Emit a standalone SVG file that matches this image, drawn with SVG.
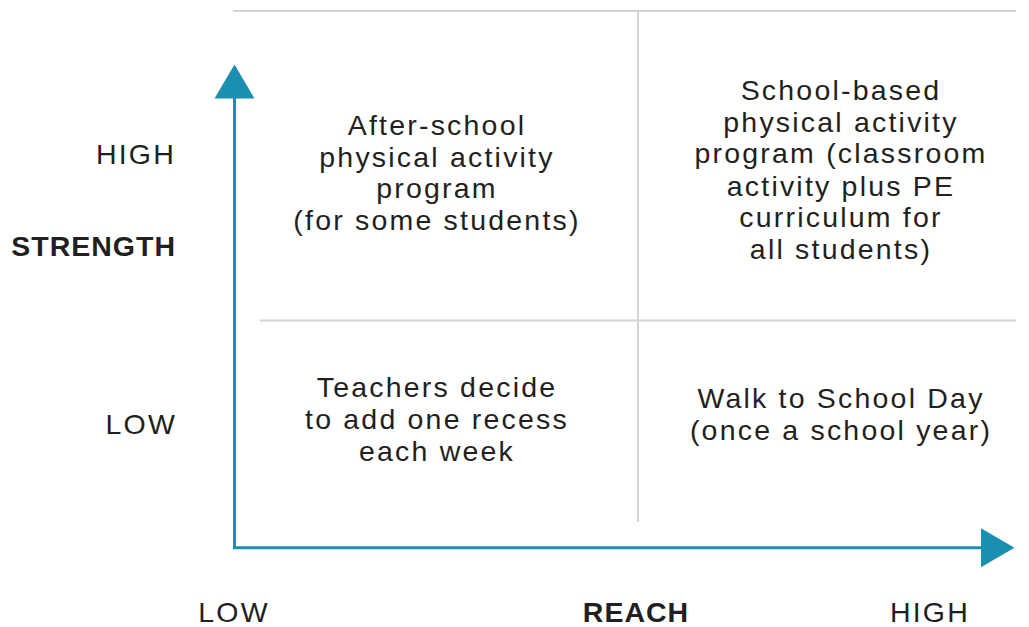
<svg xmlns="http://www.w3.org/2000/svg" width="1029" height="627" viewBox="0 0 1029 627">
  <style>
    .t { font-family: "Liberation Sans", Arial, sans-serif; font-size: 28.5px; fill: #231f20; letter-spacing: 2.2px; }
    .b { font-family: "Liberation Sans", Arial, sans-serif; font-size: 28.5px; font-weight: bold; fill: #231f20; letter-spacing: 1px; }
    .c { text-anchor: middle; }
    .r { text-anchor: end; }
    .grid { stroke: #d4d4d4; stroke-width: 2; fill: none; }
    .axis { stroke: #1b8fb1; stroke-width: 3; fill: none; }
    .head { fill: #1b8fb1; }
  </style>
  <rect width="1029" height="627" fill="#ffffff"/>
  <g id="grid">
    <line class="grid" x1="233" y1="11" x2="1016" y2="11"/>
    <line class="grid" x1="638" y1="11" x2="638" y2="522"/>
    <line class="grid" x1="260" y1="320.5" x2="1016" y2="320.5"/>
  </g>
  <g id="connectors">
    <line class="axis" x1="234.5" y1="96" x2="234.5" y2="548"/>
    <line class="axis" x1="233" y1="547.8" x2="983" y2="547.8"/>
    <polygon class="head" points="214.5,98.5 234.5,64.5 254.5,98.5"/>
    <polygon class="head" points="981,528.3 1014.5,547.8 981,567.3"/>
  </g>
  <g id="y-labels">
    <text class="t r" x="176" y="163.5">HIGH</text>
    <text class="b r" x="176" y="256">STRENGTH</text>
    <text class="t r" x="177" y="433.5">LOW</text>
  </g>
  <g id="x-labels">
    <text class="t c" x="234" y="622">LOW</text>
    <text class="b c" x="636" y="622">REACH</text>
    <text class="t c" x="930" y="622">HIGH</text>
  </g>
  <g id="q-top-left">
    <text class="t c" x="437" y="134.5">After-school</text>
    <text class="t c" x="437" y="166.5">physical activity</text>
    <text class="t c" x="437" y="198.3">program</text>
    <text class="t c" x="437" y="230">(for some students)</text>
  </g>
  <g id="q-top-right">
    <text class="t c" x="841" y="99.5">School-based</text>
    <text class="t c" x="841" y="131.5">physical activity</text>
    <text class="t c" x="841" y="163.3">program (classroom</text>
    <text class="t c" x="841" y="195.5">activity plus PE</text>
    <text class="t c" x="841" y="227.3">curriculum for</text>
    <text class="t c" x="841" y="259">all students)</text>
  </g>
  <g id="q-bottom-left">
    <text class="t c" x="437" y="396.7">Teachers decide</text>
    <text class="t c" x="437" y="429">to add one recess</text>
    <text class="t c" x="437" y="460.5">each week</text>
  </g>
  <g id="q-bottom-right">
    <text class="t c" x="841" y="408">Walk to School Day</text>
    <text class="t c" x="841" y="439.5">(once a school year)</text>
  </g>
</svg>
